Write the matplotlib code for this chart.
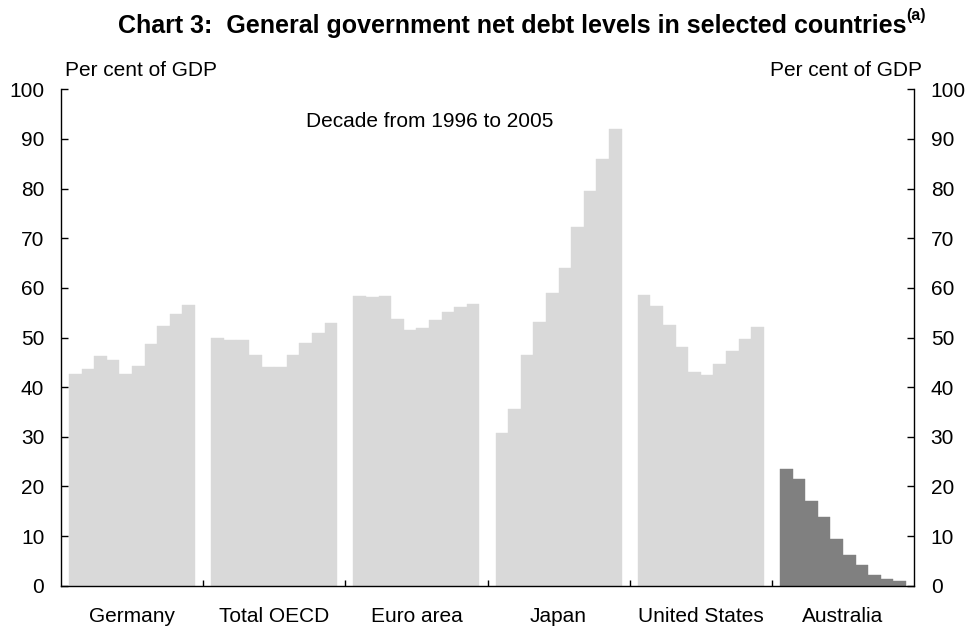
import matplotlib
matplotlib.use("Agg")
import matplotlib.pyplot as plt
import numpy as np

plt.rcParams['font.family'] = ['Liberation Sans', 'DejaVu Sans']

countries = ["Germany", "Total OECD", "Euro area", "Japan", "United States", "Australia"]
germany = [42.7, 43.6, 46.3, 45.5, 42.6, 44.3, 48.7, 52.3, 54.8, 56.6]
total_oecd = [50.0, 49.5, 49.5, 46.5, 44.1, 44.1, 46.4, 48.8, 51.0, 53.0]
euro_area = [58.4, 58.2, 58.3, 53.7, 51.6, 52.0, 53.6, 55.2, 56.2, 56.8]
japan = [30.8, 35.5, 46.4, 53.2, 58.9, 64.0, 72.2, 79.6, 86.0, 92.1]
united_states = [58.6, 56.3, 52.6, 48.0, 43.1, 42.4, 44.6, 47.2, 49.7, 52.2]
australia = [23.6, 21.5, 17.1, 13.8, 9.4, 6.1, 4.2, 2.2, 1.3, 0.9]
series = [germany, total_oecd, euro_area, japan, united_states, australia]
colors = ["#d9d9d9"] * 5 + ["#808080"]
yticks = list(range(0, 101, 10))

pitch = 11.29
gap = 1.29

fig = plt.figure(figsize=(9.68, 6.29), dpi=100)
ax = fig.add_axes([61/968, 1 - 585.7/629, (914-61)/968, (585.7-89.3)/629])

for g, (vals, col) in enumerate(zip(series, colors)):
    x = g * pitch + np.arange(len(vals)) + 0.5
    ax.bar(x, vals, width=1.0, color=col, edgecolor=col, linewidth=0.3)

ax.set_xlim(-gap / 2, 6 * pitch - gap / 2)
ax.set_ylim(0, 100)

ax.set_yticks(yticks)
ax.tick_params(axis='y', which='major', direction='in', length=5, width=1,
               labelsize=15, pad=12, left=True, right=True,
               labelleft=True, labelright=True)

ax.set_xticks([g * pitch + 5 for g in range(6)])
ax.set_xticklabels(countries)
ax.set_xticks([g * pitch - gap / 2 for g in range(1, 6)], minor=True)
ax.tick_params(axis='x', which='major', length=0, labelsize=15, pad=15)
ax.tick_params(axis='x', which='minor', direction='in', length=4, width=1)

for s in ['left', 'right', 'bottom']:
    ax.spines[s].set_linewidth(1)
    ax.spines[s].set_color('black')
ax.spines['top'].set_visible(False)

ax.text(0.432, 93.5, "Decade from 1996 to 2005", transform=ax.get_yaxis_transform(),
        ha='center', va='center', fontsize=15)

fig.text(65/968, 1 - 70/629, "Per cent of GDP", ha='left', va='center', fontsize=15)
fig.text(922/968, 1 - 70/629, "Per cent of GDP", ha='right', va='center', fontsize=15)

t = fig.text(118/968, 1 - 26/629,
             "Chart 3:  General government net debt levels in selected countries",
             ha='left', va='center', fontsize=18, fontweight='bold')
ax.annotate("(a)", xy=(1.0, 0.62), xycoords=t, ha='left', va='bottom',
            fontsize=11.5, fontweight='bold', annotation_clip=False)

fig.savefig("out.png", dpi=100)
